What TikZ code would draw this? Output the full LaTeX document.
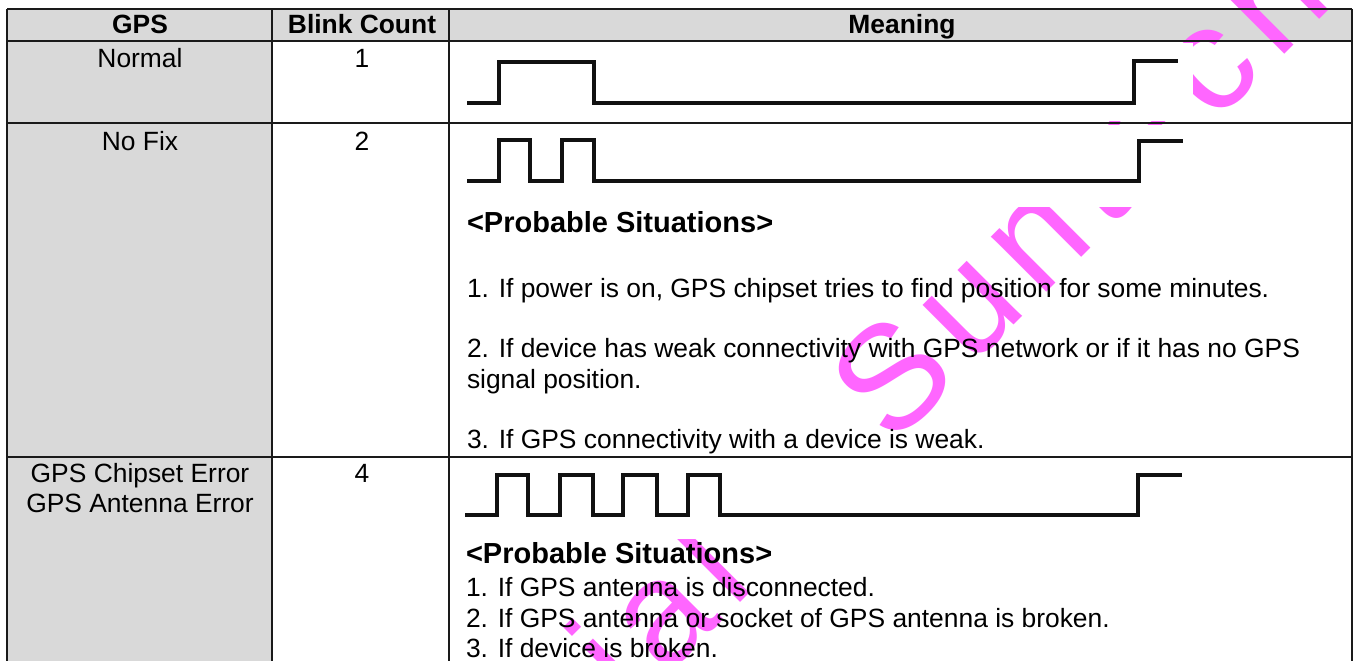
\documentclass[tikz,border=0pt]{standalone}
\usepackage{fontspec}
\usetikzlibrary{calc}
\setmainfont{Liberation Sans}
\newfontfamily\wmfont{Liberation Sans}
\definecolor{hdrgray}{HTML}{D9D9D9}
\definecolor{wmpink}{HTML}{FF66FF}
\definecolor{rulecol}{HTML}{1A1A1A}
\definecolor{wavecol}{HTML}{111111}
\tikzset{
  txt/.style={inner sep=0pt, outer sep=0pt, font=\fontsize{26.4}{31}\selectfont},
  hdr/.style={txt, font=\fontsize{26.4}{31}\selectfont\bfseries},
  sit/.style={inner sep=0pt, outer sep=0pt, font=\fontsize{29}{34}\selectfont\bfseries},
  wm/.style={inner sep=0pt, outer sep=0pt, text=wmpink, rotate=45, font=\fontsize{148}{148}\selectfont\wmfont},
  wmn/.style={wm, anchor=base west},
  wmp/.style={wm, anchor=base east},
  tline/.style={draw=rulecol, line width=1.5pt},
  wave/.style={draw=wavecol, line width=4pt, line join=miter},
  imgbg/.style={fill=white, draw=none}
}
\begin{document}
\begin{tikzpicture}[x=1pt,y=-1pt]
\useasboundingbox (0,0) rectangle (1355,661);
\fill[white] (0,0) rectangle (1355,661);
% grey fills
\fill[hdrgray] (7,9) rectangle (1352,41);
\fill[hdrgray] (7,41) rectangle (272,661);
% watermark (letter-spaced, rotated)
\begin{scope}
\clip (0,0) rectangle (1355,661);
\def\ls{14pt}
\node[wmn] (wS) at (892,447) {S};
\node[wmn] (wu) at ($(wS.base east)+(45:\ls)$) {u};
\node[wmn] (wn) at ($(wu.base east)+(45:\ls)$) {n};
\node[wmn] (wt) at ($(wn.base east)+(45:\ls)$) {t};
\node[wmn] (we) at ($(wt.base east)+(45:\ls)$) {e};
\node[wmn] (wc) at ($(we.base east)+(45:\ls)$) {c};
\node[wmn] (wh) at ($(wc.base east)+(45:\ls)$) {h};
\node[wmp] (wl) at (757,586) {l};
\node[wmp] (wa) at ($(wl.base west)+(225:\ls)$) {a};
\node[wmp] (wi2) at ($(wa.base west)+(225:\ls)$) {i};
\node[wmp] (wt2) at ($(wi2.base west)+(225:\ls)$) {t};
\node[wmp] (wn2) at ($(wt2.base west)+(225:\ls)$) {n};
\node[wmp] (we2) at ($(wn2.base west)+(225:\ls)$) {e};
\node[wmp] (wd) at ($(we2.base west)+(225:\ls)$) {d};
\node[wmp] (wi1) at ($(wd.base west)+(225:\ls)$) {i};
\node[wmp] (wf) at ($(wi1.base west)+(225:\ls)$) {f};
\node[wmp] (wn1) at ($(wf.base west)+(225:\ls)$) {n};
\node[wmp] (wo) at ($(wn1.base west)+(225:\ls)$) {o};
\node[wmp] (wC) at ($(wo.base west)+(225:\ls)$) {C};
\end{scope}
% white picture backgrounds of the waveforms
\path[imgbg] (451,43) rectangle (1193,121);
\path[imgbg] (451,125) rectangle (1193,207);
\path[imgbg] (451,460) rectangle (1193,539);
% table rules
\draw[tline] (7,9) -- (1352,9);
\draw[tline] (7,41) -- (1352,41);
\draw[tline] (7,123) -- (1352,123);
\draw[tline] (7,457) -- (1352,457);
\draw[tline] (7,9) -- (7,661);
\draw[tline] (272,9) -- (272,661);
\draw[tline] (449,9) -- (449,661);
\draw[tline] (1352,9) -- (1352,661);
% waveforms
\draw[wave] (467,103) -| (499,62) -| (594,103) -| (1134,61) -- (1178,61);
\draw[wave] (467,181) -| (499,140) -| (530,181) -| (562,140) -| (594,181) -| (1139,141) -- (1183,141);
\draw[wave] (465,515) -| (497,475) -| (528,515) -| (560,475) -| (593,515) -| (623,475) -| (657,515) -| (688,475) -| (720,515) -| (1138,475) -- (1182,475);
% header
\node[hdr, anchor=base] (h1) at (140,34) {GPS};
\node[hdr, anchor=base] (h2) at (362,34) {Blink Count};
\node[hdr, anchor=base] (h3) at (902,34) {Meaning};
% column texts
\node[txt, anchor=base] (g1) at (140,68) {Normal};
\node[txt, anchor=base] (b1) at (362,68) {1};
\node[txt, anchor=base] (g2) at (140,150) {No Fix};
\node[txt, anchor=base] (b2) at (362,150) {2};
\node[txt, anchor=base] (g3a) at (140,482) {GPS Chipset Error};
\node[txt, anchor=base] (g3b) at (140,512) {GPS Antenna Error};
\node[txt, anchor=base] (b3) at (362,482) {4};
% meaning texts, row 2
\node[sit, anchor=base west] (s2) at (467,232) {<Probable Situations>};
\node[txt, anchor=base west] (m21) at (467,297) {1. If power is on, GPS chipset tries to find position for some minutes.};
\node[txt, anchor=base west] (m22) at (467,357) {2. If device has weak connectivity with GPS network or if it has no GPS};
\node[txt, anchor=base west] (m22b) at (467,388) {signal position.};
\node[txt, anchor=base west] (m23) at (467,448) {3. If GPS connectivity with a device is weak.};
% meaning texts, row 3
\node[sit, anchor=base west] (s3) at (466,563) {<Probable Situations>};
\node[txt, anchor=base west] (m31) at (466,596) {1. If GPS antenna is disconnected.};
\node[txt, anchor=base west] (m32) at (466,627) {2. If GPS antenna or socket of GPS antenna is broken.};
\node[txt, anchor=base west] (m33) at (466,657) {3. If device is broken.};
\end{tikzpicture}
\end{document}
